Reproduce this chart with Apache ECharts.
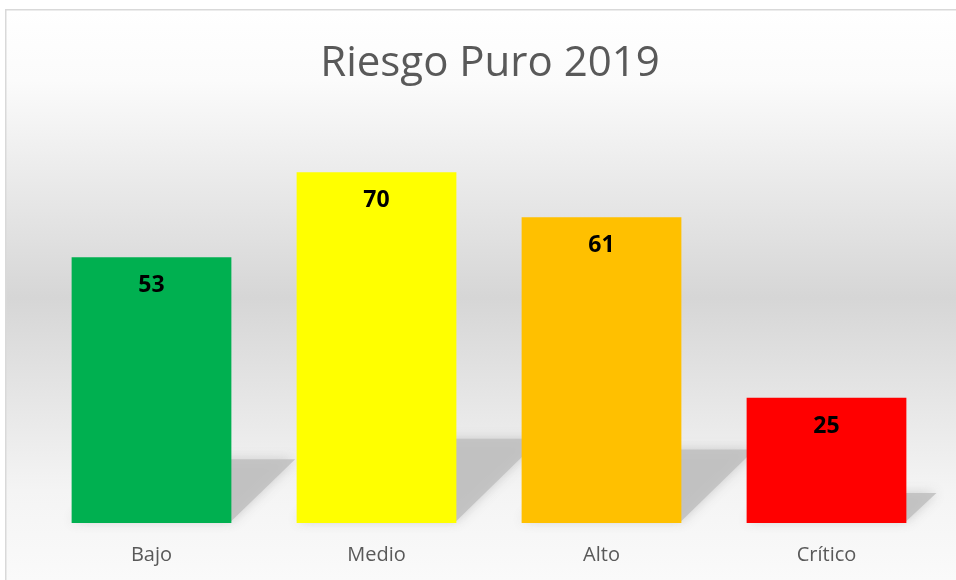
<!DOCTYPE html>
<html>
<head>
<meta charset="utf-8">
<script src="https://cdn.jsdelivr.net/npm/echarts@6/dist/echarts.min.js"></script>
<style>
  html, body { margin: 0; padding: 0; background: #fff; }
  #main { width: 956px; height: 580px; }
</style>
</head>
<body>
<div id="main"></div>
<script>
// datos
var categorias = ['Bajo', 'Medio', 'Alto', 'Crítico'];
var valores = [53, 70, 61, 25];
var colores = ['#00B050', '#FFFF00', '#FFC000', '#FF0000'];

var BAR_FRAC = 0.71; // ancho de barra / ancho de categoria

var myChart = echarts.init(document.getElementById('main'));

// sombra en perspectiva detras de cada barra
function renderSombra(params, api) {
  var i = api.value(0);
  var base = api.coord([i, 0]);
  var top = api.coord([i, api.value(1)]);
  var w = api.size([1, 0])[0] * BAR_FRAC;
  var left = base[0] - w / 2;
  var right = base[0] + w / 2;
  var s = (base[1] - top[1]) * 0.24;
  return {
    type: 'polygon',
    shape: {
      points: [
        [left, base[1] - 2],
        [right, base[1] - 2],
        [right + s, base[1] - s],
        [left + s, base[1] - s]
      ]
    },
    style: {
      fill: 'rgba(192,192,192,0.85)',
      shadowBlur: 12,
      shadowColor: 'rgba(190,190,190,0.9)'
    }
  };
}

var option = {
  backgroundColor: '#ffffff',
  graphic: [
    {
      type: 'rect',
      left: 5,
      top: 9,
      z: -10,
      silent: true,
      shape: { width: 1000, height: 600 },
      style: {
        stroke: '#d9d9d9',
        lineWidth: 1.5,
        fill: new echarts.graphic.LinearGradient(0, 0, 0, 1, [
          { offset: 0, color: '#ffffff' },
          { offset: 0.12, color: '#fbfbfb' },
          { offset: 0.48, color: '#d6d6d6' },
          { offset: 0.8, color: '#f4f4f4' },
          { offset: 1, color: '#fcfcfc' }
        ])
      }
    }
  ],
  title: {
    text: 'Riesgo Puro 2019',
    left: 485,
    textAlign: 'center',
    top: 38,
    textStyle: {
      fontFamily: 'Open Sans',
      fontSize: 42,
      fontWeight: 'normal',
      color: '#595959'
    }
  },
  grid: {
    left: 39,
    right: 17,
    top: 122,
    bottom: 57
  },
  xAxis: {
    type: 'category',
    data: categorias,
    axisLine: { show: false },
    axisTick: { show: false },
    axisLabel: {
      margin: 22,
      fontFamily: 'Open Sans',
      fontSize: 20,
      color: '#595959'
    }
  },
  yAxis: {
    type: 'value',
    min: 0,
    max: 80,
    show: false,
    splitLine: { show: false }
  },
  series: [
    {
      type: 'custom',
      renderItem: renderSombra,
      data: valores.map(function (v, i) { return [i, v]; }),
      z: 1,
      silent: true
    },
    {
      type: 'bar',
      data: valores.map(function (v, i) {
        return { value: v, itemStyle: { color: colores[i] } };
      }),
      barWidth: (BAR_FRAC * 100) + '%',
      z: 3,
      label: {
        show: true,
        position: 'insideTop',
        distance: 17,
        fontFamily: 'Open Sans',
        fontSize: 23,
        fontWeight: 'bold',
        color: '#000000'
      }
    }
  ]
};

myChart.setOption(option);
</script>
</body>
</html>
